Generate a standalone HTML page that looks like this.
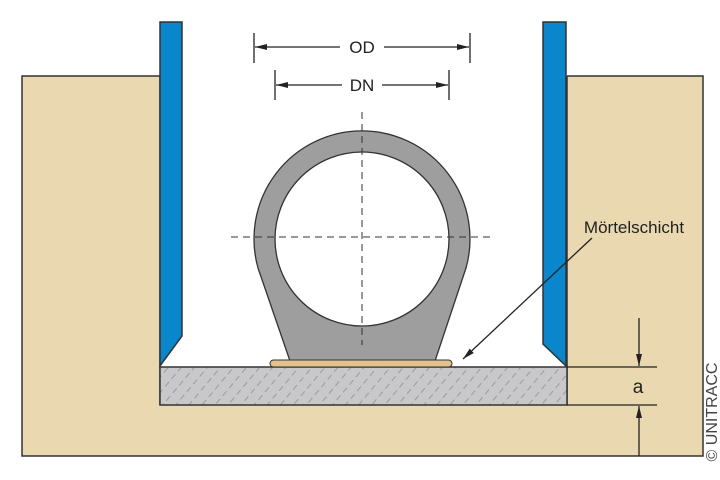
<!DOCTYPE html>
<html><head><style>body{margin:0;background:#fff}svg{display:block}</style></head><body>
<svg width="720" height="480" viewBox="0 0 720 480" xmlns="http://www.w3.org/2000/svg" font-family="Liberation Sans, sans-serif">
<defs>
<pattern id="h" width="10" height="10" patternUnits="userSpaceOnUse" patternTransform="rotate(-50)">
<line x1="0" y1="5" x2="6" y2="5" stroke="#9a9a9a" stroke-width="1"/>
</pattern>
<marker id="a" markerWidth="12" markerHeight="8" refX="12" refY="4" orient="auto" markerUnits="userSpaceOnUse"><path d="M0,1 L12,4 L0,7 Z" fill="#222"/></marker>
</defs>
<rect x="22" y="76" width="681" height="380" fill="#ead8b0" stroke="#333" stroke-width="1.5"/>
<rect x="160" y="0" width="407" height="368" fill="#fff"/>
<line x1="160" y1="76" x2="160" y2="405" stroke="#333" stroke-width="1.5"/>
<line x1="567" y1="76" x2="567" y2="405" stroke="#333" stroke-width="1.5"/>
<rect x="160" y="367" width="407" height="38" fill="#c8c8ca"/>
<rect x="160" y="367" width="407" height="38" fill="url(#h)" stroke="#333" stroke-width="1.5"/>
<path d="M160,22 L182,22 L182,336 L160,366 Z" fill="#0a86cc" stroke="#333" stroke-width="1.5"/>
<path d="M543,22 L566,22 L566,366 L543,344 Z" fill="#0a86cc" stroke="#333" stroke-width="1.5"/>
<path d="M258,268 A108,108 0 1 1 466,268 L435,361 L290,361 Z" fill="#9e9e9e" stroke="#333" stroke-width="1.3"/>
<circle cx="362" cy="239" r="87" fill="#fff" stroke="#333" stroke-width="1.3"/>
<rect x="270" y="360" width="182" height="7" rx="3.5" fill="#e2c28e" stroke="#333" stroke-width="1"/>
<line x1="362" y1="112" x2="362" y2="345" stroke="#333" stroke-dasharray="7,5"/>
<line x1="231" y1="237" x2="495" y2="237" stroke="#333" stroke-dasharray="7,5"/>
<g stroke="#222" stroke-width="1.3">
<line x1="254" y1="33" x2="254" y2="63"/><line x1="470" y1="33" x2="470" y2="63"/>
<line x1="340" y1="47" x2="255" y2="47" marker-end="url(#a)"/><line x1="384" y1="47" x2="469" y2="47" marker-end="url(#a)"/>
<line x1="275" y1="70" x2="275" y2="100"/><line x1="449" y1="70" x2="449" y2="100"/>
<line x1="342" y1="85" x2="276" y2="85" marker-end="url(#a)"/><line x1="382" y1="85" x2="448" y2="85" marker-end="url(#a)"/>
<line x1="567" y1="367" x2="657" y2="367"/><line x1="567" y1="405" x2="657" y2="405"/>
<line x1="639" y1="318" x2="639" y2="366" marker-end="url(#a)"/>
<line x1="639" y1="456" x2="639" y2="406" marker-end="url(#a)"/>
<line x1="592" y1="238" x2="463" y2="359" marker-end="url(#a)"/>
</g>
<text x="362" y="53" font-size="17" text-anchor="middle" fill="#222">OD</text>
<text x="362" y="91" font-size="17" text-anchor="middle" fill="#222">DN</text>
<text x="634" y="233" font-size="17" text-anchor="middle" fill="#222">Mörtelschicht</text>
<text x="638" y="393" font-size="19" text-anchor="middle" fill="#222">a</text>
<text transform="translate(717,412) rotate(-90)" font-size="16" text-anchor="middle" fill="#444">© UNITRACC</text>
</svg>
</body></html>
